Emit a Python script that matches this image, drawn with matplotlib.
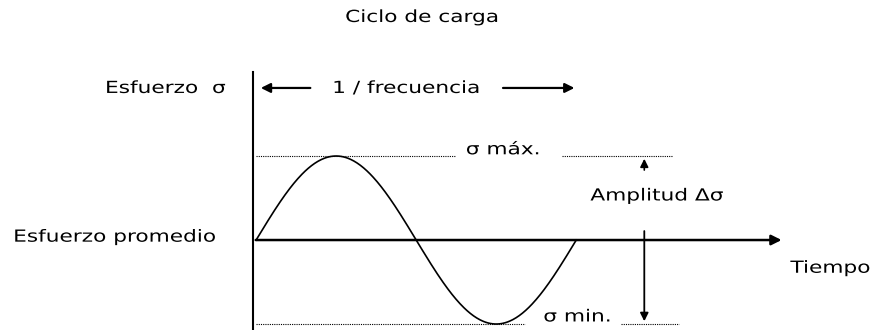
import numpy as np
from matplotlib import pyplot as plt
from matplotlib.patheffects import AbstractPathEffect
from matplotlib.transforms import Affine2D

# One load cycle: time in periods, stress in units of the amplitude
period = 1.0
mean_stress = 0.0
amplitude = 1.0
t = np.linspace(0, period, 400)
stress = mean_stress + amplitude * np.sin(2 * np.pi * t / period)


class Stretch(AbstractPathEffect):
    """Widen glyphs horizontally from the text's left edge."""

    def __init__(self, sx):
        super().__init__()
        self.sx = sx

    def draw_path(self, renderer, gc, tpath, affine, rgbFace=None):
        renderer.draw_path(gc, tpath, Affine2D().scale(self.sx, 1) + affine,
                           rgbFace)


fig = plt.figure(figsize=(8.74, 3.30), dpi=100)
ax = fig.add_axes([0, 0, 1, 1])
ax.set_xlim(-0.8, 1.93)
ax.set_ylim(-1.071, 2.857)
ax.axis("off")

black = "black"
txt = dict(fontsize=12, ha="left", va="center", path_effects=[Stretch(1.3)])

# axes of the diagram
ax.plot([-0.01, -0.01], [2.0, -1.1], color=black, lw=1.5)
ax.annotate("", xy=(1.65, mean_stress), xytext=(-0.01, mean_stress),
            arrowprops=dict(arrowstyle="-|>", color=black, lw=1.8,
                            mutation_scale=15))

# the stress wave
ax.plot(t, stress, color=black, lw=1.2)

# max / min levels
smax = mean_stress + amplitude
smin = mean_stress - amplitude
dot = dict(color=black, lw=0.8, ls=(0, (1, 1)))
ax.plot([0.0, 0.62], [smax, smax], **dot)
ax.plot([0.956, 1.30], [smax, smax], **dot)
ax.plot([0.0, 0.84], [smin, smin], **dot)
ax.plot([1.14, 1.32], [smin, smin], **dot)
ax.text(0.655, smax + 0.08, "σ máx.", **txt)
ax.text(0.897, smin + 0.09, "σ min.", **txt)

# amplitude arrows
xa = 1.2125
ax.annotate("", xy=(xa, smax), xytext=(xa, smax - 0.2),
            arrowprops=dict(arrowstyle="-|>", color=black, lw=1.2,
                            mutation_scale=12))
ax.annotate("", xy=(xa, smin), xytext=(xa, 0.14),
            arrowprops=dict(arrowstyle="-|>", color=black, lw=1.3,
                            mutation_scale=12))
ax.text(1.044, 0.53, "Amplitud Δσ", **txt)

# period arrow
yf = 1.81
ax.annotate("", xy=(0.006, yf), xytext=(0.178, yf),
            arrowprops=dict(arrowstyle="-|>", color=black, lw=1.6,
                            mutation_scale=14))
ax.annotate("", xy=(1.003, yf), xytext=(0.7625, yf),
            arrowprops=dict(arrowstyle="-|>", color=black, lw=1.6,
                            mutation_scale=14))
ax.text(0.2375, yf, "1 / frecuencia", **txt)

# labels
ax.text(-0.472, yf, "Esfuerzo  σ", **txt)
ax.text(-0.759, mean_stress + 0.04, "Esfuerzo promedio", **txt)
ax.text(1.669, -0.33, "Tiempo", **txt)
ax.text(0.278, 2.655, "Ciclo de carga", **txt)

fig.savefig("out.png", dpi=100)
